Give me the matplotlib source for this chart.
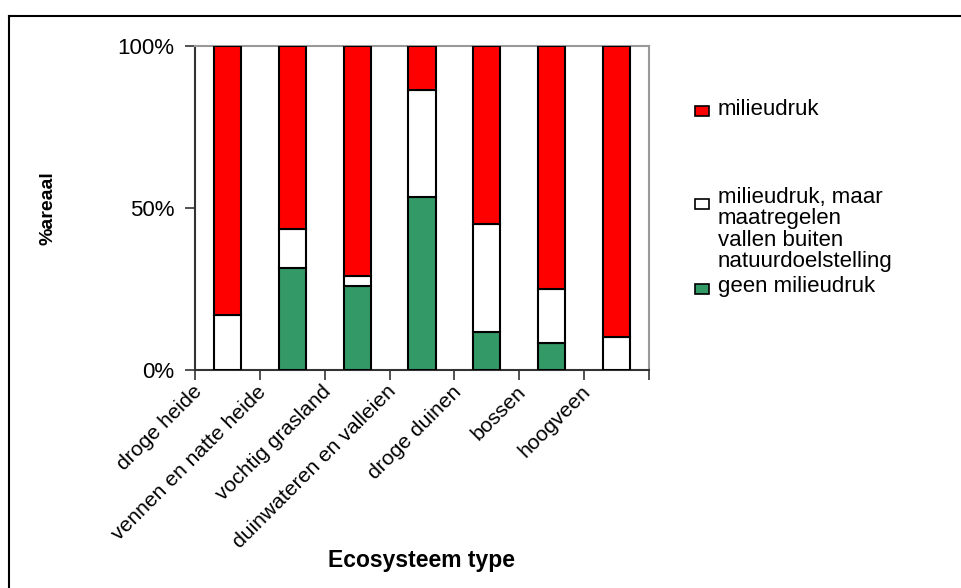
import numpy as np
import matplotlib.pyplot as plt
from matplotlib.patches import Rectangle
from matplotlib.lines import Line2D
from matplotlib.transforms import offset_copy

plt.rcParams['font.family'] = ['Liberation Sans', 'DejaVu Sans']

categories = ['droge heide', 'vennen en natte heide', 'vochtig grasland',
              'duinwateren en valleien', 'droge duinen', 'bossen', 'hoogveen']
geen_milieudruk = [0, 31.4, 25.9, 53.5, 11.6, 8.2, 0]
buiten_doel = [17.0, 12.1, 3.2, 32.9, 33.4, 16.9, 10.3]
milieudruk = [83.0, 56.5, 70.9, 13.6, 55.0, 74.9, 89.7]
yticks = [0, 50, 100]
ytick_labels = ['0%', '50%', '100%']

W, H = 961, 588
fig = plt.figure(figsize=(W / 100, H / 100), dpi=100)
ax = fig.add_axes([195 / W, 1 - 370 / H, 454 / W, 324 / H])

x = np.arange(len(categories))
bw = 0.42
kw = dict(width=bw, edgecolor='black', linewidth=1.5, zorder=3)
ax.bar(x, geen_milieudruk, color='#339966', **kw)
ax.bar(x, buiten_doel, bottom=geen_milieudruk, color='white', **kw)
bottom2 = np.array(geen_milieudruk) + np.array(buiten_doel)
ax.bar(x, milieudruk, bottom=bottom2, color='#ff0000', **kw)

ax.set_xlim(-0.5, len(categories) - 0.5)
ax.set_ylim(0, 100)
ax.set_yticks(yticks)
ax.set_yticklabels(ytick_labels, fontsize=16)
ax.set_xticks(np.arange(-0.5, len(categories), 1))
ax.set_xticklabels([])
ax.tick_params(axis='both', direction='out', length=7, width=1.2, color='#333333')
ax.tick_params(axis='y', pad=8)

for s in ['top', 'right']:
    ax.spines[s].set_color('#999999')
    ax.spines[s].set_linewidth(1.5)
for s in ['left', 'bottom']:
    ax.spines[s].set_color('#333333')
    ax.spines[s].set_linewidth(1.5)

# rotated category labels, ending at the left boundary of each category
trans = offset_copy(ax.get_xaxis_transform(), fig=fig, x=-3, y=-12, units='dots')
for i, lab in enumerate(categories):
    ax.text(i - 0.5, 0, lab, transform=trans, rotation=45, rotation_mode='anchor',
            ha='right', va='top', fontsize=15.2)

fig.text(422 / W, 1 - 560 / H, 'Ecosysteem type', ha='center', va='center',
         fontsize=16.5, fontweight='bold')
fig.text(48 / W, 1 - 208 / H, '%areaal', ha='center', va='center',
         rotation=90, fontsize=14, fontweight='bold')

# legend
legend_items = [('#ff0000', 'milieudruk', 111, 99),
                ('white', 'milieudruk, maar\nmaatregelen\nvallen buiten\nnatuurdoelstelling', 204, 187),
                ('#339966', 'geen milieudruk', 289, 276)]
for col, txt, yc, ytop in legend_items:
    fig.patches.append(Rectangle((695 / W, 1 - (yc + 5) / H), 14 / W, 10 / H,
                                 transform=fig.transFigure, facecolor=col,
                                 edgecolor='black', linewidth=1.2))
    fig.text(718 / W, 1 - ytop / H, txt, ha='left', va='top',
             fontsize=16, linespacing=1.03)

# outer frame
fig.lines.append(Line2D([9 / W, 9 / W], [0, 1 - 16 / H], transform=fig.transFigure,
                        color='black', linewidth=1.5))
fig.lines.append(Line2D([9 / W, 1], [1 - 16 / H, 1 - 16 / H], transform=fig.transFigure,
                        color='black', linewidth=1.5))

fig.savefig('out.png', dpi=100)
